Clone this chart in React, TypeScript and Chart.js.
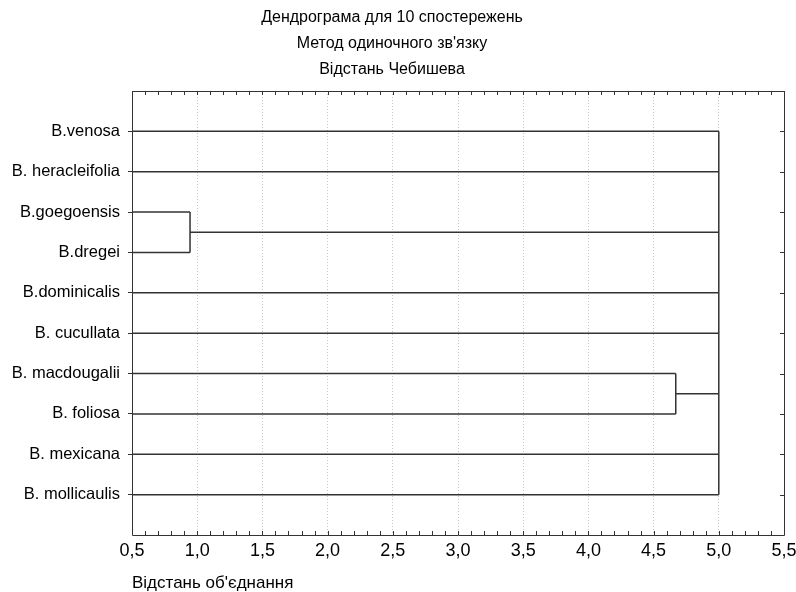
import React, { useEffect, useRef } from "react";
import { Chart, registerables } from "chart.js";

Chart.register(...registerables);

const titleLines = ["Дендрограма для 10 спостережень", "Метод одиночного зв'язку", "Відстань Чебишева"];
const xAxisTitle = "Відстань об'єднання";
const leafLabels = [
  "B.venosa",
  "B. heracleifolia",
  "B.goegoensis",
  "B.dregei",
  "B.dominicalis",
  "B. cucullata",
  "B. macdougalii",
  "B. foliosa",
  "B. mexicana",
  "B. mollicaulis",
];
// merges: children ids (0-9 leaves, 10+ earlier merges) and linkage distance
const mergeChildren = [[2, 3], [6, 7], [0, 1, 10, 4, 5, 11, 8, 9]];
const mergeDistances = [0.945, 4.67, 5.0];
const xMin = 0.5;
const xMax = 5.5;
const xStep = 0.5;
const minorStep = 0.1;

const FONT = "'Liberation Sans', Arial, sans-serif";
const LINE = "#333333";

function buildSegments() {
  const nodeX: number[] = leafLabels.map(() => xMin);
  const nodeY: number[] = leafLabels.map((_, i) => i + 1);
  const segs: { x: number; y: number }[][] = [];
  mergeChildren.forEach((children, m) => {
    const d = mergeDistances[m];
    const ys = children.map((c) => nodeY[c]);
    children.forEach((c) => {
      segs.push([{ x: nodeX[c], y: nodeY[c] }, { x: d, y: nodeY[c] }]);
    });
    const lo = Math.min(...ys);
    const hi = Math.max(...ys);
    segs.push([{ x: d, y: lo }, { x: d, y: hi }]);
    nodeX.push(d);
    nodeY.push((lo + hi) / 2);
  });
  return segs;
}

const framePlugin = {
  id: "frame",
  afterDatasetsDraw(chart: any) {
    const { ctx, chartArea } = chart;
    const { left, right, top, bottom } = chartArea;
    const xs = chart.scales.x;
    const ys = chart.scales.y;
    ctx.save();
    ctx.strokeStyle = LINE;
    ctx.lineWidth = 1;
    ctx.setLineDash([]);
    ctx.beginPath();
    ctx.rect(Math.round(left) + 0.5, Math.round(top) + 0.5, Math.round(right - left), Math.round(bottom - top));
    ctx.stroke();
    // minor ticks top & bottom (inward)
    ctx.beginPath();
    const n = Math.round((xMax - xMin) / minorStep);
    for (let i = 0; i <= n; i++) {
      const px = Math.round(xs.getPixelForValue(xMin + i * minorStep)) + 0.5;
      ctx.moveTo(px, bottom);
      ctx.lineTo(px, bottom - 4);
      ctx.moveTo(px, top);
      ctx.lineTo(px, top + 4);
    }
    // right ticks inward
    leafLabels.forEach((_, i) => {
      const py = Math.round(ys.getPixelForValue(i + 1)) + 0.5;
      ctx.moveTo(right, py);
      ctx.lineTo(right - 4, py);
    });
    ctx.stroke();
    ctx.restore();
  },
};

export default function App() {
  const ref = useRef<HTMLCanvasElement>(null);
  useEffect(() => {
    if (!ref.current) return;
    Chart.defaults.font.family = FONT;
    const segs = buildSegments();
    const chart = new Chart(ref.current, {
      type: "scatter",
      data: {
        datasets: segs.map((s) => ({
          data: s,
          showLine: true,
          borderColor: LINE,
          borderWidth: 1.5,
          pointRadius: 0,
          pointHoverRadius: 0,
          fill: false,
        })),
      },
      options: {
        animation: false,
        responsive: false,
        events: [],
        layout: { padding: { left: 0, right: 12, top: 0, bottom: 0 } },
        plugins: {
          legend: { display: false },
          tooltip: { enabled: false },
          title: {
            display: true,
            text: titleLines,
            color: "#000",
            font: { size: 16, weight: "normal", lineHeight: 1.65 },
            padding: { top: 4, bottom: 7.8 },
          },
        },
        scales: {
          x: {
            type: "linear",
            min: xMin,
            max: xMax,
            afterFit(scale: any) {
              scale.height = 57;
              scale.paddingLeft = 0;
              scale.paddingRight = 0;
            },
            title: {
              display: true,
              text: xAxisTitle,
              align: "start",
              color: "#000",
              font: { size: 17, lineHeight: 1 },
              padding: { top: 0, bottom: 0.5 },
            },
            ticks: {
              stepSize: xStep,
              color: "#000",
              font: { size: 18 },
              padding: 5,
              callback: (v: any) => Number(v).toFixed(1).replace(".", ","),
            },
            grid: {
              display: true,
              drawTicks: false,
              color: "#c4c4c4",
              lineWidth: 1,
            },
            border: { display: false, dash: [1, 2] },
          },
          y: {
            type: "linear",
            reverse: true,
            min: 0,
            max: 11,
            afterBuildTicks(scale: any) {
              scale.ticks = leafLabels.map((_, i) => ({ value: i + 1 }));
            },
            afterFit(scale: any) {
              scale.width = 132;
              scale.paddingTop = 0;
              scale.paddingBottom = 0;
            },
            ticks: {
              color: "#000",
              font: { size: 16.5 },
              padding: 8,
              autoSkip: false,
              callback: (v: any) => leafLabels[Math.round(Number(v)) - 1] ?? "",
            },
            grid: {
              display: true,
              drawOnChartArea: false,
              drawTicks: true,
              tickLength: 4,
              color: LINE,
            },
            border: { display: false },
          },
        },
      },
      plugins: [framePlugin],
    } as any);
    return () => chart.destroy();
  }, []);
  return (
    <div style={{ position: "fixed", left: 0, top: 0, width: 796, height: 592, background: "#fff" }}>
      <canvas ref={ref} width={796} height={592} />
    </div>
  );
}
